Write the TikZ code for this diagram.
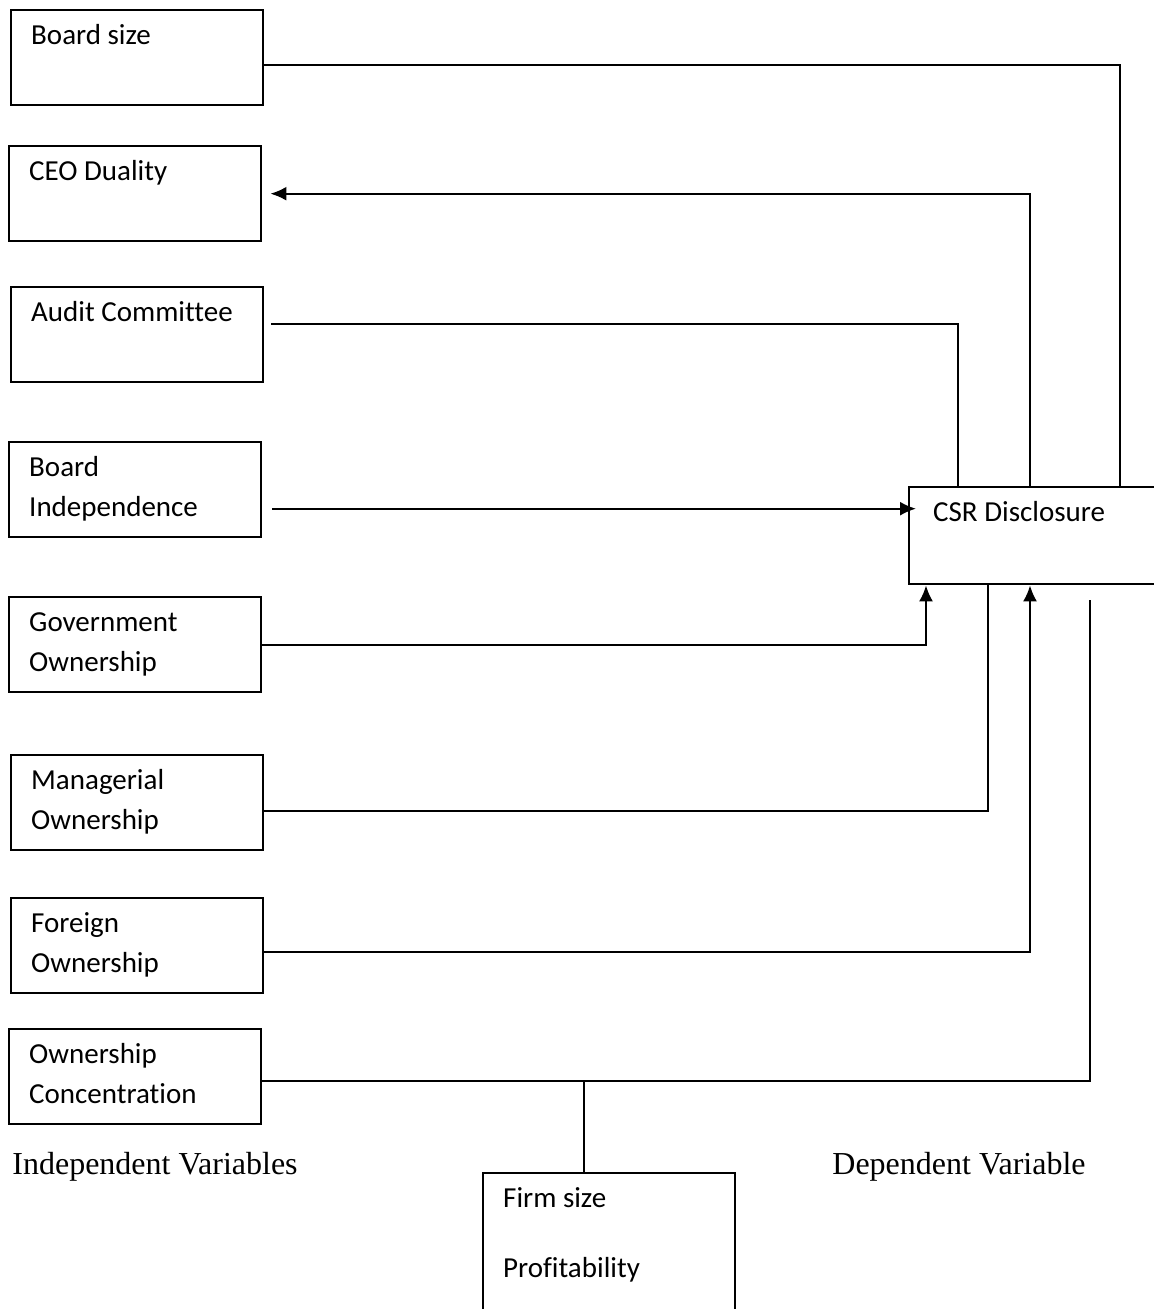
\documentclass[tikz,border=0pt]{standalone}
\usepackage{fontspec}
\setmainfont{Carlito}[Ligatures=NoCommon]
\newfontfamily\captionserif{Liberation Serif}
\usetikzlibrary{arrows.meta, positioning, calc}
\newcommand\boxlines[2][41.5pt]{\parbox[t][#1][t]{106pt}{\raggedright\strut#2}}
\tikzset{
  varbox/.style={draw, line width=1.2pt, anchor=north west, inner xsep=10pt, inner ysep=3pt,
    minimum width=126pt, minimum height=47.5pt, font=\fontsize{14.5}{20}\selectfont},
  link/.style={line width=1pt},
  arr/.style={-{Latex[length=8pt,width=7pt]}},
  caption/.style={anchor=base west, inner sep=0pt, font=\captionserif\fontsize{16}{18}\selectfont}
}

\begin{document}
\begin{tikzpicture}[x=0.5pt, y=-0.5pt]
    \useasboundingbox (0,0) rectangle (1154,1309);

    \node[varbox] (bsize) at (10,9) {\boxlines{Board size}};
    \node[varbox] (ceo) at (8,145) {\boxlines{CEO Duality}};
    \node[varbox] (audit) at (10,286) {\boxlines{Audit Committee}};
    \node[varbox] (bind) at (8,441) {\boxlines{Board\\Independence}};
    \node[varbox] (gov) at (8,596) {\boxlines{Government\\Ownership}};
    \node[varbox] (mown) at (10,754) {\boxlines{Managerial\\Ownership}};
    \node[varbox] (fown) at (10,897) {\boxlines{Foreign\\Ownership}};
    \node[varbox] (conc) at (8,1028) {\boxlines{Ownership\\Concentration}};
    \node[varbox, minimum width=130pt, minimum height=48.5pt] (csr) at (908,486) {\boxlines[42.5pt]{CSR Disclosure}};
    \node[varbox, minimum width=125.5pt, minimum height=72pt] (ctrl) at (482,1172)
      {\boxlines[66pt]{Firm size\\[15pt]Profitability}};

    \node[caption] (indep) at (12,1174) {Independent Variables};
    \node[caption] (dep) at (832,1174) {Dependent Variable};

    \draw[link] ([yshift=-3.75pt]bsize.east) -| ([xshift=106pt]csr.north west);
    \draw[link, arr] ([xshift=61pt]csr.north west) |- ([xshift=4pt]ceo.east);
    \draw[link] ([xshift=3.5pt, yshift=5.5pt]audit.east) -| ([xshift=25pt]csr.north west);
    \draw[link, arr] ([xshift=5pt, yshift=-9.5pt]bind.east) coordinate (bindout) -- ([xshift=4pt]bindout -| csr.west);
    \draw[link, arr] (gov.east) -| ([xshift=9pt]csr.south west);
    \draw[link] ([yshift=-4pt]mown.east) -| ([xshift=40pt]csr.south west);
    \draw[link, arr] ([yshift=-3pt]fown.east) -| ([xshift=61pt]csr.south west);
    \draw[link] ([yshift=-2pt]conc.east) coordinate (concout) -| ([xshift=91pt, yshift=-7.5pt]csr.south west);
    \draw[link] ([xshift=-12.5pt]ctrl.north) -- ([xshift=-12.5pt]ctrl.north |- concout);
  \end{tikzpicture}
\end{document}
